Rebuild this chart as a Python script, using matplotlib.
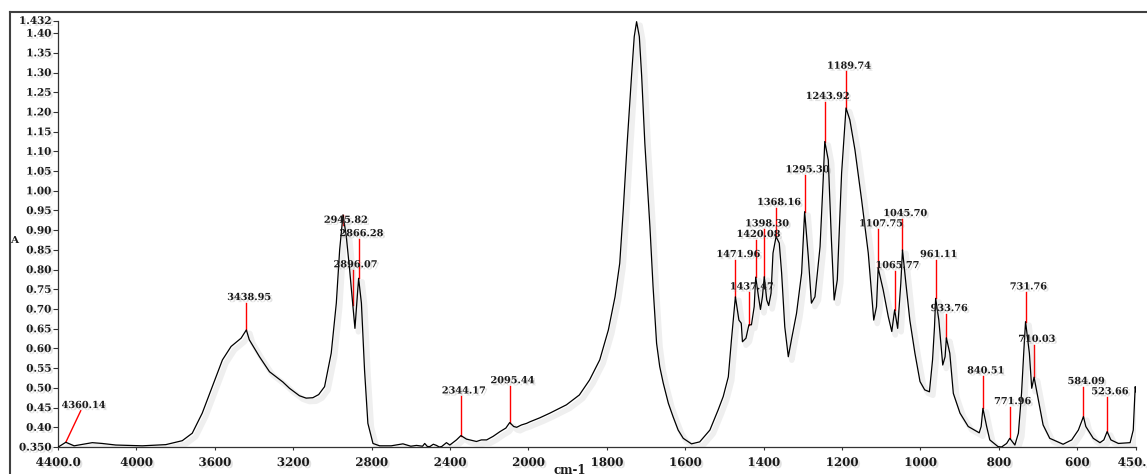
import matplotlib
matplotlib.use("Agg")
import matplotlib.pyplot as plt
import matplotlib.patheffects as pe
from matplotlib.lines import Line2D
import numpy as np

# spectrum (wavenumber, absorbance)
wavenumber = [
    4400, 4392, 4360.14, 4318, 4270, 4225, 4175, 4105, 3970, 3850, 3766, 3715,
    3664, 3613, 3561, 3517, 3466, 3438.95, 3424, 3372, 3321, 3253, 3219, 3168,
    3134, 3100, 3070, 3040, 3006, 2980, 2963, 2945.82, 2929, 2912, 2896.07,
    2885, 2866.28, 2852, 2836, 2819, 2793, 2759, 2700, 2640, 2600, 2571, 2540,
    2529, 2515, 2503, 2485, 2469, 2455, 2443, 2418, 2401, 2367, 2344.17, 2316,
    2290, 2265, 2240, 2213, 2180, 2145, 2115, 2095.44, 2075, 2060, 2035, 2009,
    1996, 1971, 1945, 1903, 1870, 1844, 1818, 1796, 1779, 1767, 1758, 1748,
    1737, 1730, 1724, 1717, 1711, 1703, 1690, 1682, 1673, 1665, 1656, 1643,
    1631, 1618, 1605, 1584,
    1563, 1537, 1516, 1503, 1490, 1482, 1476, 1471.96, 1463, 1457, 1454, 1445,
    1437.47, 1431, 1424, 1420.08, 1413, 1408, 1403, 1398.30, 1392, 1387, 1381,
    1376, 1368.16, 1360, 1354, 1346, 1337, 1329, 1316, 1303, 1295.30, 1286,
    1278, 1269, 1256, 1248, 1243.92, 1235, 1227, 1220, 1212, 1201, 1189.74,
    1180, 1167, 1150, 1133, 1119, 1112, 1107.75, 1095, 1082, 1073, 1065.77,
    1058, 1050, 1045.70, 1037, 1027, 1014, 1001, 989, 977, 969, 964, 961.11,
    953, 943, 937, 933.76, 925, 916, 899, 878, 850, 845, 840.51, 831, 823, 802,
    793, 780, 771.96, 759, 750, 742, 736, 731.76, 722, 716, 710.03, 699, 687,
    670, 636, 614, 597, 584.09, 578, 559, 542, 532, 523.66, 514, 495, 465, 457,
    452, 450,
]
absorbance = [
    0.350, 0.352, 0.362, 0.353, 0.357, 0.361, 0.359, 0.355, 0.353, 0.356, 0.366, 0.385,
    0.436, 0.503, 0.571, 0.605, 0.626, 0.647, 0.622, 0.579, 0.541, 0.515, 0.499, 0.480,
    0.474, 0.475, 0.483, 0.503, 0.588, 0.715, 0.850, 0.939, 0.884, 0.799, 0.710,
    0.651, 0.778, 0.715, 0.545, 0.410, 0.359, 0.353, 0.353, 0.358, 0.352, 0.354, 0.352,
    0.359, 0.351, 0.351, 0.357, 0.354, 0.350, 0.351, 0.361, 0.355, 0.368, 0.379, 0.370,
    0.367, 0.364, 0.368, 0.368, 0.377, 0.389, 0.398, 0.412, 0.402, 0.400, 0.406, 0.410,
    0.414, 0.424, 0.436, 0.457, 0.482, 0.520, 0.571, 0.647, 0.731, 0.816, 0.952, 1.121,
    1.290, 1.391, 1.429, 1.391, 1.290, 1.121, 0.909, 0.757, 0.613, 0.554, 0.512, 0.461,
    0.427, 0.393, 0.372, 0.358,
    0.363, 0.393, 0.444, 0.478, 0.528, 0.622, 0.689, 0.731, 0.672, 0.664, 0.617, 0.626,
    0.660, 0.660, 0.706, 0.781, 0.731, 0.699, 0.731, 0.782, 0.723, 0.709, 0.740,
    0.842, 0.884, 0.867, 0.791, 0.655, 0.579, 0.622, 0.689, 0.791, 0.947, 0.833,
    0.715, 0.731, 0.858, 1.028, 1.125, 1.078, 0.875, 0.723, 0.774, 1.045, 1.210,
    1.180, 1.104, 0.977, 0.842, 0.672, 0.706, 0.804, 0.749, 0.681, 0.643, 0.698,
    0.651, 0.765, 0.850, 0.765, 0.672, 0.588, 0.516, 0.495, 0.490, 0.571, 0.655, 0.727,
    0.672, 0.558, 0.579, 0.627, 0.588, 0.486, 0.436, 0.402, 0.386, 0.402, 0.448, 0.402, 0.368, 0.351,
    0.350, 0.359, 0.372, 0.355, 0.385, 0.486, 0.596, 0.668, 0.588, 0.499, 0.527, 0.469, 0.406,
    0.372, 0.357, 0.368, 0.393, 0.427, 0.402, 0.372, 0.361, 0.368, 0.389, 0.368, 0.359, 0.361, 0.393,
    0.503, 0.490,
]

# peak picks: label, peak position, peak height, top of the red marker
peak_labels = ["4360.14", "3438.95", "2945.82", "2896.07", "2866.28", "2344.17",
               "2095.44", "1471.96", "1437.47", "1420.08", "1398.30", "1368.16",
               "1295.30", "1243.92", "1189.74", "1107.75", "1065.77", "1045.70",
               "961.11", "933.76", "840.51", "771.96", "731.76", "710.03",
               "584.09", "523.66"]
peak_wn = [4360.14, 3438.95, 2945.82, 2896.07, 2866.28, 2344.17, 2095.44,
           1471.96, 1437.47, 1420.08, 1398.30, 1368.16, 1295.30, 1243.92,
           1189.74, 1107.75, 1065.77, 1045.70, 961.11, 933.76, 840.51, 771.96,
           731.76, 710.03, 584.09, 523.66]
peak_abs = [0.362, 0.647, 0.939, 0.710, 0.778, 0.379, 0.412, 0.731, 0.660,
            0.781, 0.782, 0.884, 0.947, 1.125, 1.210, 0.804, 0.698, 0.850,
            0.727, 0.627, 0.448, 0.372, 0.668, 0.527, 0.427, 0.389]
marker_wn = [4284] + peak_wn[1:]
marker_top = [0.442, 0.716, 0.912, 0.799, 0.878, 0.479, 0.505, 0.825, 0.743,
              0.876, 0.903, 0.957, 1.040, 1.226, 1.303, 0.903, 0.797, 0.929,
              0.825, 0.688, 0.530, 0.452, 0.743, 0.610, 0.503, 0.477]

x_ticks = [4400, 4000, 3600, 3200, 2800, 2400, 2000, 1800, 1600, 1400, 1200,
           1000, 800, 600, 450]
x_ticklabels = ["4400.0", "4000", "3600", "3200", "2800", "2400", "2000", "1800",
                "1600", "1400", "1200", "1000", "800", "600", "450.0"]
y_ticks = [0.35, 0.40, 0.45, 0.50, 0.55, 0.60, 0.65, 0.70, 0.75, 0.80, 0.85,
           0.90, 0.95, 1.00, 1.05, 1.10, 1.15, 1.20, 1.25, 1.30, 1.35, 1.40, 1.432]
y_ticklabels = ["0.350", "0.40", "0.45", "0.50", "0.55", "0.60", "0.65", "0.70",
                "0.75", "0.80", "0.85", "0.90", "0.95", "1.00", "1.05", "1.10",
                "1.15", "1.20", "1.25", "1.30", "1.35", "1.40", "1.432"]


# FTIR style axis: scale doubles below 2000 cm-1
def fwd(x):
    x = np.asarray(x, dtype=float)
    return np.where(x > 2000, 2000 + (x - 2000) / 2, x)


def inv(u):
    u = np.asarray(u, dtype=float)
    return np.where(u > 2000, 2000 + (u - 2000) * 2, u)


W, H = 1147, 474
fig = plt.figure(figsize=(W / 100, H / 100), dpi=100)
ax = fig.add_axes([58 / W, 27 / H, (1136 - 58) / W, (447 - 20.5) / H])
ax.set_xscale("function", functions=(fwd, inv))

txt_shadow = [pe.withSimplePatchShadow(offset=(1.5, -1.5), shadow_rgbFace="0.55", alpha=0.25)]
line_shadow = [pe.SimpleLineShadow(offset=(2.5, -2.5), shadow_color="0.5", alpha=0.12, linewidth=4),
               pe.Normal()]

ax.plot(wavenumber, absorbance, color="black", lw=0.9, path_effects=line_shadow,
        solid_joinstyle="round", zorder=3)

for lab, pw, pa, mw, mt in zip(peak_labels, peak_wn, peak_abs, marker_wn, marker_top):
    ax.plot([pw, mw], [pa, mt], color="red", lw=1.0, zorder=2)
    ax.annotate(lab, (mw, mt), xytext=(2, 0.5), textcoords="offset points",
                ha="center", va="bottom", fontsize=7, family="DejaVu Serif",
                fontweight="bold", color="0.1", path_effects=txt_shadow, zorder=4)

ax.set_xlim(4400, 450)
ax.set_ylim(0.35, 1.432)
ax.set_xticks(x_ticks)
ax.set_xticklabels(x_ticklabels)
ax.set_yticks(y_ticks)
ax.set_yticklabels(y_ticklabels)
ax.xaxis.set_minor_locator(matplotlib.ticker.NullLocator())

for s in ["top", "right"]:
    ax.spines[s].set_visible(False)
for s in ["left", "bottom"]:
    ax.spines[s].set_linewidth(0.9)
    ax.spines[s].set_color("0.2")

ax.tick_params(axis="y", direction="out", length=3.5, width=0.8, pad=1.2, colors="0.2")
ax.tick_params(axis="x", direction="out", length=2.5, width=0.8, pad=4, colors="0.2")
for t in ax.get_yticklabels():
    t.set_fontsize(7.5)
    t.set_family("DejaVu Serif")
    t.set_fontweight("bold")
    t.set_color("0.1")
    t.set_path_effects(txt_shadow)
for t in ax.get_xticklabels():
    t.set_fontsize(8.5)
    t.set_family("DejaVu Serif")
    t.set_fontweight("bold")
    t.set_color("0.1")
    t.set_path_effects(txt_shadow)

fig.text(14 / W, 1 - 240 / H, "A", fontsize=7.5, family="DejaVu Serif",
         fontweight="bold", ha="center", va="center", color="0.1")
fig.text(570 / W, 1 - 471 / H, "cm-1", fontsize=8.5, family="DejaVu Serif",
         fontweight="bold", ha="center", va="center", color="0.1")

# window frame
fig.add_artist(Line2D([10 / W, 10 / W], [0, 1 - 12 / H], transform=fig.transFigure,
                      color="0.25", lw=1.5))
fig.add_artist(Line2D([10 / W, 1], [1 - 12 / H, 1 - 12 / H], transform=fig.transFigure,
                      color="0.25", lw=1.5))

fig.savefig("out.png", dpi=100)
